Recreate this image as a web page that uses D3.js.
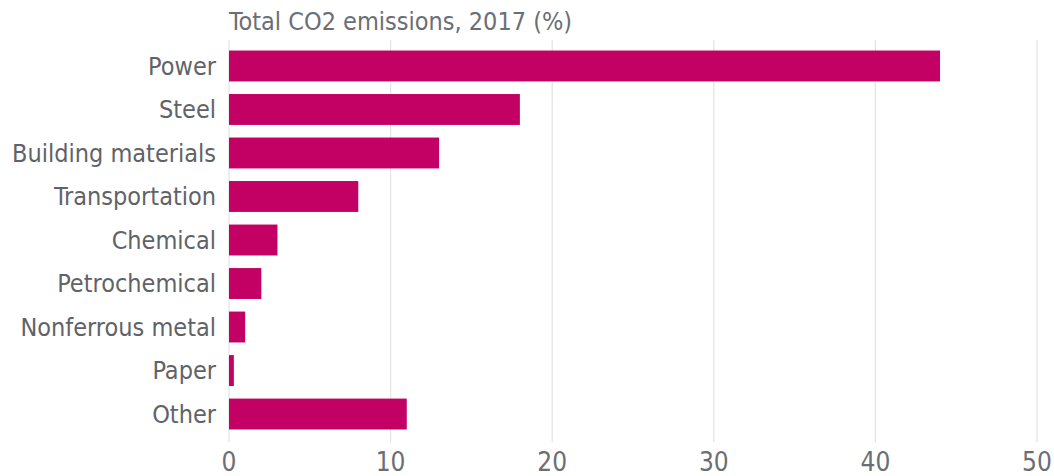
<!DOCTYPE html>
<html>
<head>
<meta charset="utf-8">
<script src="https://cdn.jsdelivr.net/npm/d3@7"></script>
<style>
  body { margin: 0; background: #fff; }
  text { font-family: "Liberation Sans Narrow", "DejaVu Sans Condensed", Roboto, sans-serif; }
</style>
</head>
<body>
<script>
// data
const sectors = ["Power", "Steel", "Building materials", "Transportation", "Chemical",
                 "Petrochemical", "Nonferrous metal", "Paper", "Other"];
const shares = [44, 18, 13, 8, 3, 2, 1, 0.3, 11];
const ticks = [0, 10, 20, 30, 40, 50];
const title = "Total CO2 emissions, 2017 (%)";

var width = 1054, height = 476;
var margin = {top: 44, right: 17, bottom: 40, left: 229};

var svg = d3.select("body").append("svg")
  .attr("width", width)
  .attr("height", height);

var x = d3.scaleLinear()
  .domain([0, 50])
  .range([margin.left, 1037]);

var y = d3.scaleBand()
  .domain(sectors)
  .range([margin.top, height - margin.bottom])
  .paddingInner(0.29)
  .paddingOuter(0.15);

// grid lines
svg.append("g")
  .selectAll("line")
  .data(ticks)
  .enter().append("line")
    .attr("x1", d => x(d))
    .attr("x2", d => x(d))
    .attr("y1", 40)
    .attr("y2", 442)
    .attr("stroke", "#e3e3e3")
    .attr("stroke-width", 1.2);

// bars
svg.append("g")
  .selectAll("rect")
  .data(sectors)
  .enter().append("rect")
    .attr("x", x(0))
    .attr("y", d => y(d))
    .attr("width", (d, i) => x(shares[i]) - x(0))
    .attr("height", y.bandwidth())
    .attr("fill", "#c30063");

// category labels
svg.append("g")
  .selectAll("text")
  .data(sectors)
  .enter().append("text")
    .attr("x", x(0) - 13)
    .attr("y", d => y(d) + y.bandwidth() / 2)
    .attr("dy", "0.35em")
    .attr("text-anchor", "end")
    .attr("fill", "#5f6368")
    .style("font-size", "25px")
    .text(d => d);

// x tick labels
svg.append("g")
  .selectAll("text")
  .data(ticks)
  .enter().append("text")
    .attr("x", d => x(d))
    .attr("y", 471)
    .attr("text-anchor", "middle")
    .attr("fill", "#6b6e73")
    .style("font-size", "26px")
    .text(d => d);

// title
svg.append("text")
  .attr("x", x(0))
  .attr("y", 30)
  .attr("fill", "#6b6e73")
  .style("font-size", "25px")
  .text(title);
</script>
</body>
</html>
